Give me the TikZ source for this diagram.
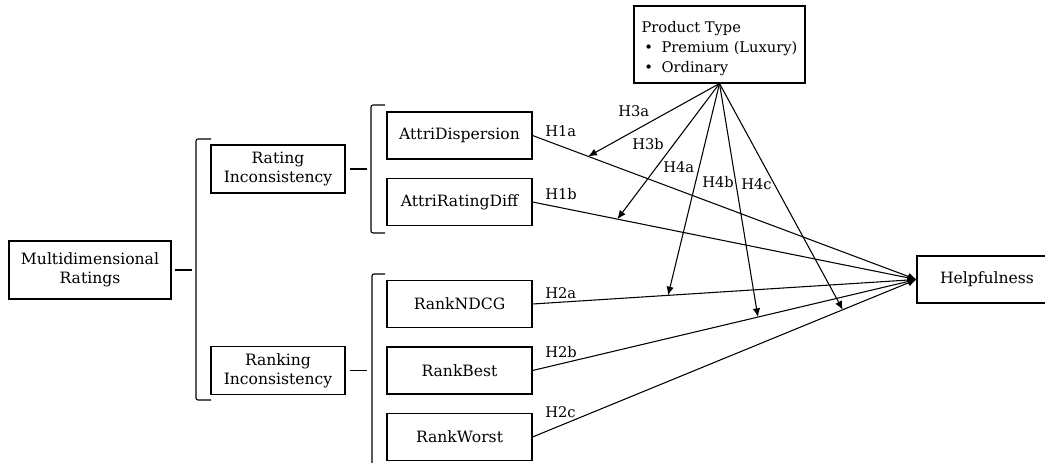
\documentclass[tikz,border=0pt]{standalone}
\usepackage{fontspec}
\setmainfont{DejaVu Serif}
\usetikzlibrary{arrows.meta,calc}
\begin{document}
\begin{tikzpicture}[x=0.75pt,y=-0.75pt,
  every node/.style={font=\fontsize{11.7}{14.5}\selectfont},
  box/.style={draw, line width=0.8pt, inner sep=0pt, align=center},
  lbl/.style={anchor=base west, inner sep=0pt, font=\fontsize{11}{14}\selectfont},
  conn/.style={line width=0.8pt},
  arr/.style={line width=0.8pt, -{Latex[length=6.5pt,width=5.5pt]}},
  brk/.style={line width=0.8pt, rounded corners=1.5pt}]
\useasboundingbox (0,0) rectangle (1045,463);
% boxes
\node[box, minimum width=121.5pt, minimum height=43.5pt] (multi) at (90,270) {Multidimensional\\Ratings};
\node[box, minimum width=100.5pt, minimum height=36pt] (rating) at (278,169) {Rating\\Inconsistency};
\node[box, minimum width=100.5pt, minimum height=36pt] (ranking) at (278,370.5) {Ranking\\Inconsistency};
\node[box, minimum width=108.75pt, minimum height=35.25pt] (ad) at (459.5,135.5) {AttriDispersion};
\node[box, minimum width=108.75pt, minimum height=35.25pt] (ard) at (459.5,202) {AttriRatingDiff};
\node[box, minimum width=108.75pt, minimum height=35.25pt] (ndcg) at (459.5,304) {RankNDCG};
\node[box, minimum width=108.75pt, minimum height=35.25pt] (best) at (459.5,370.5) {RankBest};
\node[box, minimum width=108.75pt, minimum height=35.25pt] (worst) at (459.5,437) {RankWorst};
\node[box, minimum width=105pt, minimum height=35.25pt] (help) at (987,279.5) {Helpfulness};
\node[box, minimum width=128.25pt, minimum height=57.75pt, align=left, font=\fontsize{11}{15}\selectfont] (prod) at (719.5,44.5)
  {\rule{0pt}{14.5pt}Product Type\\\makebox[15pt][l]{\hspace{2pt}\textbullet}Premium (Luxury)\\\makebox[15pt][l]{\hspace{2pt}\textbullet}Ordinary};
% brackets
\draw[brk] (211,139) -- (196,139) -- (196,400) -- (211,400);
\draw[brk] (385,105) -- (371,105) -- (371,233) -- (385,233);
\draw[brk] (385,274) -- (372,274) -- (372,470);
% bracket connectors
\coordinate (b1) at (192,270);
\coordinate (b2) at (367,169);
\coordinate (b3) at (367,370.5);
\draw[conn] ([xshift=2.25pt]multi.east) -- (b1);
\draw[conn] ([xshift=3pt]rating.east) -- (b2);
\draw[conn] ([xshift=3pt]ranking.east) -- (b3);
% main paths
\foreach \n in {ad,ard,ndcg,best,worst}
  \draw[arr] (\n.east) -- (help.west);
% moderation
\coordinate (t3a) at ($(ad.east)!0.145!(help.west)$);
\coordinate (t3b) at ($(ard.east)!0.221!(help.west)$);
\coordinate (t4a) at ($(ndcg.east)!0.353!(help.west)$);
\coordinate (t4b) at ($(best.east)!0.587!(help.west)$);
\coordinate (t4c) at ($(worst.east)!0.808!(help.west)$);
\foreach \t in {t3a,t3b,t4a,t4b,t4c}
  \draw[arr] (prod.south) -- (\t);
% labels
\node[lbl] (l1a) at (545,137) {H1a};
\node[lbl] (l1b) at (545,200) {H1b};
\node[lbl] (l2a) at (545,298) {H2a};
\node[lbl] (l2b) at (545,357) {H2b};
\node[lbl] (l2c) at (545,417) {H2c};
\node[lbl] (l3a) at (618,117) {H3a};
\node[lbl] (l3b) at (632,150) {H3b};
\node[lbl] (l4a) at (663,173) {H4a};
\node[lbl] (l4b) at (702,188) {H4b};
\node[lbl] (l4c) at (741,190) {H4c};
\end{tikzpicture}
\end{document}
